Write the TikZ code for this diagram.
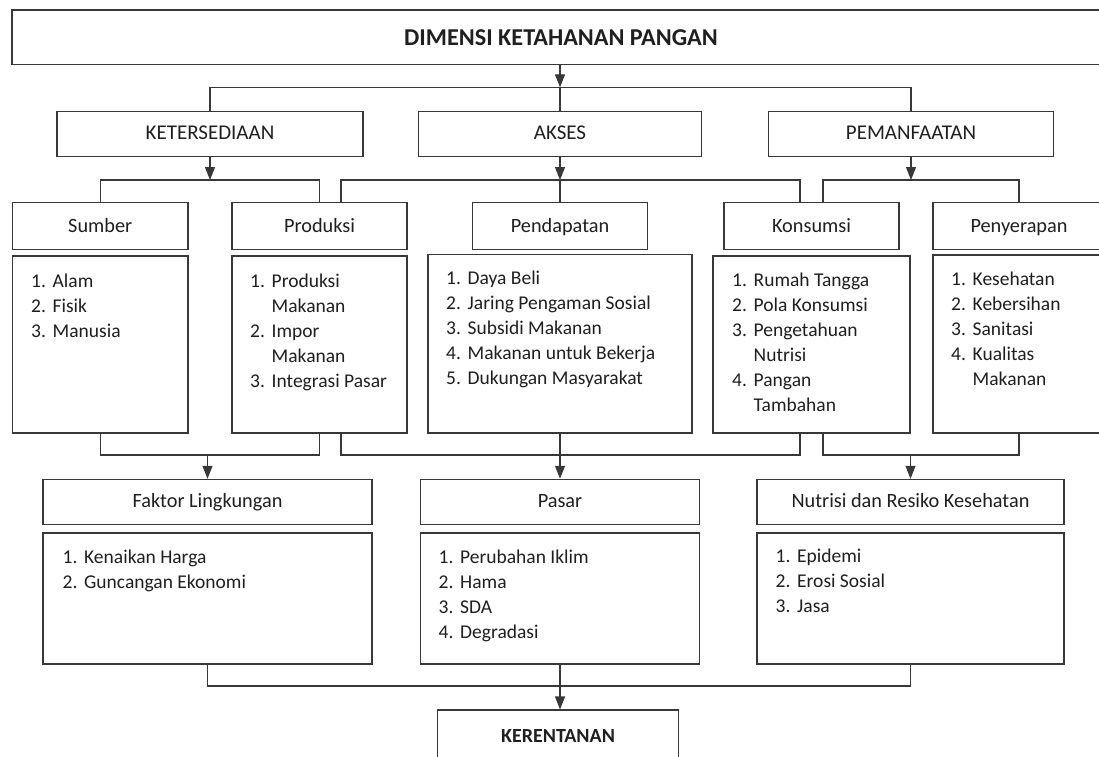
\documentclass[tikz,border=0pt]{standalone}
\usepackage{fontspec}
\setmainfont{Carlito}
\usetikzlibrary{arrows.meta}
\newcommand{\daftar}[1]{\begin{tabular}[t]{@{}p{21.5pt}@{}l@{}}#1\end{tabular}}
\begin{document}
\begin{tikzpicture}[x=1pt,y=-1pt,
    every node/.style={font=\fontsize{19.5}{25}\selectfont, text=black!88},
    box/.style={draw=black!78, line width=1.1pt, inner sep=0pt, text height=12pt, text depth=0pt,
                font=\fontsize{20.3}{25}\selectfont},
    dimbox/.style={box, minimum height=45.3pt, font=\fontsize{21}{25}\selectfont},
    list/.style={inner sep=0pt, anchor=base west},
    line/.style={draw=black!78, line width=1.1pt},
    arr/.style={line, -{Triangle[length=13pt,width=10pt]}}]
    \clip (0,0) rectangle (1099,756);
    \fill[white] (0,0) rectangle (1099,756);
    % judul
    \node[box, minimum width=1098pt, minimum height=54.7pt, text height=16pt,
          font=\fontsize{24.2}{28}\selectfont\bfseries] (dimensi) at (561,37.3) {DIMENSI KETAHANAN PANGAN};
    % tiga dimensi
    \node[dimbox, minimum width=306pt] (ketersediaan) at (210,133.7) {KETERSEDIAAN};
    \node[dimbox, minimum width=283.5pt] (akses) at (560,133.7) {AKSES};
    \node[dimbox, minimum width=285pt] (pemanfaatan) at (911,133.7) {PEMANFAATAN};
    % sub dimensi
    \node[box, minimum width=175.5pt, minimum height=46.6pt] (sumber) at (100.25,226) {Sumber};
    \node[box, minimum width=175pt, minimum height=46.6pt] (produksi) at (319.5,226) {Produksi};
    \node[box, minimum width=175pt, minimum height=46.6pt] (pendapatan) at (560,226) {Pendapatan};
    \node[box, minimum width=175pt, minimum height=46.6pt] (konsumsi) at (811.5,226) {Konsumsi};
    \node[box, minimum width=172pt, minimum height=46.6pt] (penyerapan) at (1019,226) {Penyerapan};
    % kotak isi
    \node[box, minimum width=175.5pt, minimum height=177pt] (sumberbox) at (100.25,344.5) {};
    \node[box, minimum width=175pt, minimum height=177pt] (produksibox) at (319.5,344.5) {};
    \node[box, minimum width=264pt, minimum height=178.3pt] (pendapatanbox) at (560,343.85) {};
    \node[box, minimum width=197pt, minimum height=177pt] (konsumsibox) at (811.5,344.5) {};
    \node[box, minimum width=172pt, minimum height=178pt] (penyerapanbox) at (1019,344) {};
    \node[list] (sumberisi) at (31,287) {\daftar{1.&Alam\\2.&Fisik\\3.&Manusia}};
    \node[list] (produksiisi) at (250,287) {\daftar{1.&Produksi\\&Makanan\\2.&Impor\\&Makanan\\3.&Integrasi Pasar}};
    \node[list] (pendapatanisi) at (446,284.5) {\daftar{1.&Daya Beli\\2.&Jaring Pengaman Sosial\\3.&Subsidi Makanan\\4.&Makanan untuk Bekerja\\5.&Dukungan Masyarakat}};
    \node[list] (konsumsiisi) at (732,286) {\daftar{1.&Rumah Tangga\\2.&Pola Konsumsi\\3.&Pengetahuan\\&Nutrisi\\4.&Pangan\\&Tambahan}};
    \node[list] (penyerapanisi) at (951,285) {\daftar{1.&Kesehatan\\2.&Kebersihan\\3.&Sanitasi\\4.&Kualitas\\&Makanan}};
    % faktor
    \node[box, minimum width=329pt, minimum height=45pt] (faktor) at (207.5,501.8) {Faktor Lingkungan};
    \node[box, minimum width=279pt, minimum height=45pt] (pasar) at (560,501.8) {Pasar};
    \node[box, minimum width=307pt, minimum height=45pt] (nutrisi) at (910.5,501.8) {Nutrisi dan Resiko Kesehatan};
    \node[box, minimum width=329pt, minimum height=131pt] (faktorbox) at (207.5,598.5) {};
    \node[box, minimum width=279pt, minimum height=131pt] (pasarbox) at (560,598.5) {};
    \node[box, minimum width=307pt, minimum height=131pt] (nutrisibox) at (910.5,598.5) {};
    \node[list] (faktorisi) at (62.5,563) {\daftar{1.&Kenaikan Harga\\2.&Guncangan Ekonomi}};
    \node[list] (pasarisi) at (438.5,563) {\daftar{1.&Perubahan Iklim\\2.&Hama\\3.&SDA\\4.&Degradasi}};
    \node[list] (nutrisiisi) at (775.5,562) {\daftar{1.&Epidemi\\2.&Erosi Sosial\\3.&Jasa}};
    % hasil
    \node[box, minimum width=241.6pt, minimum height=51pt, text height=13pt,
          font=\fontsize{20}{25}\selectfont\bfseries] (kerentanan) at (558,735.5) {KERENTANAN};
    % penghubung
    \coordinate (c1) at (560,87.3);
    \coordinate (c2) at (210,180);
    \coordinate (c3) at (560,180);
    \coordinate (c4) at (911,180);
    \coordinate (c5) at (207.5,455);
    \coordinate (c6) at (560,455);
    \coordinate (c7) at (910.5,455);
    \coordinate (c8) at (560,686);
    \draw[arr] (dimensi.south -| c1) -- (c1);
    \draw[line] (ketersediaan.north) |- (c1) -| (pemanfaatan.north);
    \draw[line] (c1) -- (akses.north);
    \draw[arr] (ketersediaan) -- (c2);
    \draw[line] (sumber.north) |- (c2) -| (produksi.north);
    \draw[arr] (akses) -- (c3);
    \draw[line] ([xshift=21.5pt]produksi.north) |- (c3) -| ([xshift=-11.5pt]konsumsi.north);
    \draw[line] (c3) -- (pendapatan.north);
    \draw[arr] (pemanfaatan) -- (c4);
    \draw[line] ([xshift=11.5pt]konsumsi.north) |- (c4) -| (penyerapan.north);
    \draw[line] (sumberbox.south) |- (c5) -| (produksibox.south);
    \draw[arr] (c5) -- (faktor.north);
    \draw[line] ([xshift=21.5pt]produksibox.south) |- (c6) -| ([xshift=-11.5pt]konsumsibox.south);
    \draw[arr] (pendapatanbox.south) -- (pasar.north);
    \draw[line] ([xshift=11.5pt]konsumsibox.south) |- (c7) -| (penyerapanbox.south);
    \draw[arr] (c7) -- (nutrisi.north);
    \draw[line] (faktorbox.south) |- (c8) -| (nutrisibox.south);
    \draw[arr] (pasarbox.south) -- (pasarbox.south |- kerentanan.north);
\end{tikzpicture}
\end{document}
